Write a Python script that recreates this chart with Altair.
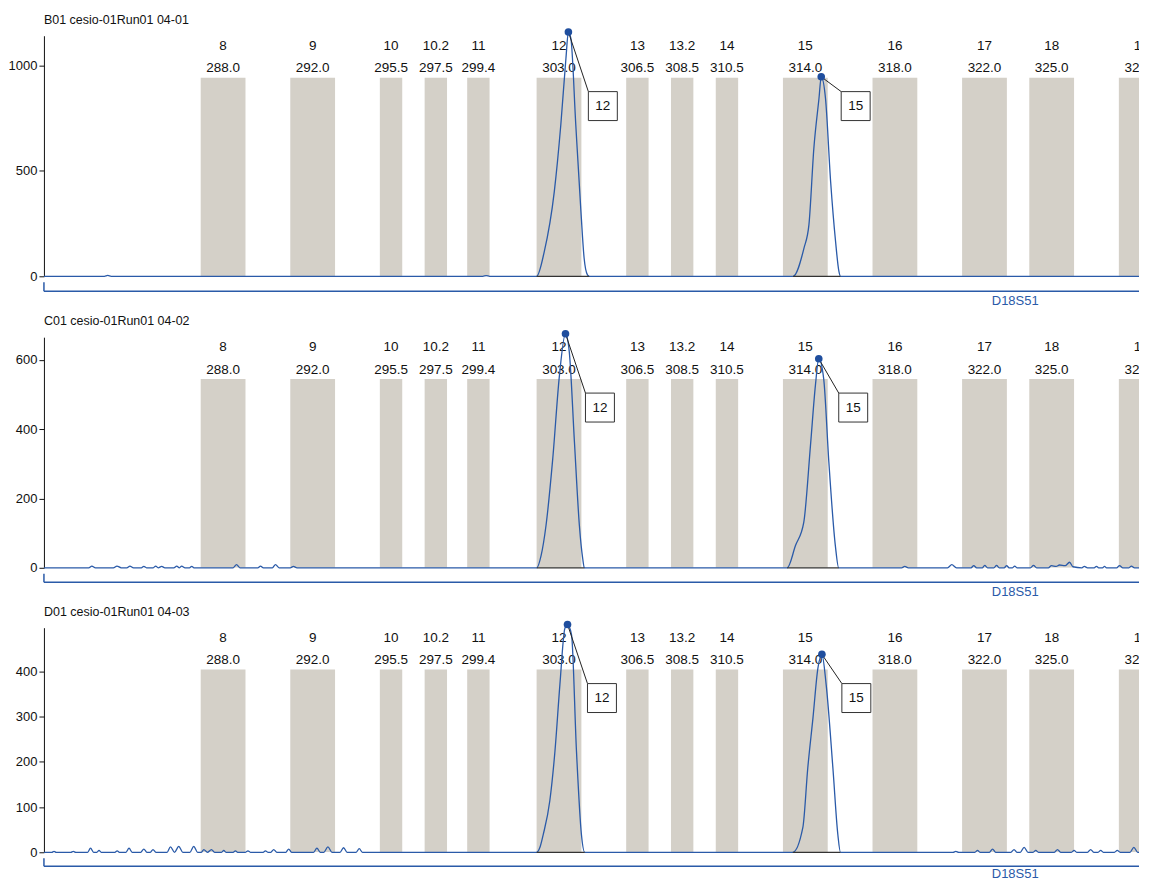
import altair as alt
import pandas as pd

FONT = "Liberation Sans"
BLUE = "#2a5aa8"
DOT_BLUE = "#1f4e9e"
BIN_GRAY = "#d4d0c8"

# ---------------- data ----------------
bin_alleles = ["8", "9", "10", "10.2", "11", "12", "13", "13.2", "14", "15", "16", "17", "18", "19"]
bin_sizes = [288.0, 292.0, 295.5, 297.5, 299.4, 303.0, 306.5, 308.5, 310.5, 314.0, 318.0, 322.0, 325.0, 329.0]
bin_half = [1.0, 1.0, 0.5, 0.5, 0.5, 1.0, 0.5, 0.5, 0.5, 1.0, 1.0, 1.0, 1.0, 1.0]

marker_name = "D18S51"
samples = ["B01 cesio-01Run01 04-01", "C01 cesio-01Run01 04-02", "D01 cesio-01Run01 04-03"]
y_max = [1142, 665, 497]
y_ticks = [[0, 500, 1000], [0, 100, 200, 300, 400, 500, 600], [0, 100, 200, 300, 400]]

peak_alleles = [["12", "15"], ["12", "15"], ["12", "15"]]
peak_bp = [[303.42, 314.71], [303.29, 314.60], [303.38, 314.74]]
peak_rfu = [[1160, 947], [675, 603], [504, 438]]
peak_start = [[302.0, 313.45], [302.01, 313.19], [302.0, 313.44]]
peak_end = [[304.35, 315.57], [304.13, 315.49], [304.15, 315.57]]

trace1_bp = [280.0, 282.7, 282.85, 283.0, 299.6, 299.75, 299.9,
             302.0, 302.34, 302.79, 303.08, 303.31, 303.42, 303.53, 303.75, 303.98, 304.12, 304.27, 304.35,
             313.45, 313.94, 314.16, 314.38, 314.61, 314.71, 314.90, 315.13, 315.35, 315.50, 315.57, 328.9]
trace1_rfu = [0, 0, 4, 0, 0, 3, 0,
              0, 116, 402, 718, 1035, 1160, 1130, 718, 307, 88, 7, 0,
              0, 134, 244, 607, 845, 947, 845, 449, 165, 23, 0, 0]

trace2_bp = [280.0, 282.0, 282.14, 282.3, 283.1, 283.26, 283.45, 283.7, 283.84, 284.0, 284.35, 284.46, 284.58,
             284.88, 284.99, 285.1, 285.26, 285.4, 285.8, 285.93, 286.05, 286.15, 286.3, 286.5, 286.6, 286.7,
             288.45, 288.6, 288.75, 289.55, 289.67, 289.8, 290.2, 290.34, 290.5, 291.0, 291.14, 291.3,
             302.01, 302.2, 302.42, 302.72, 303.02, 303.29, 303.46, 303.69, 303.91, 304.06, 304.13,
             313.19, 313.56, 313.93, 314.23, 314.45, 314.6, 314.82, 315.05, 315.34, 315.49,
             318.3, 318.44, 318.6, 320.35, 320.54, 320.75, 321.4, 321.52, 321.65, 321.9, 322.01, 322.14,
             322.42, 322.54, 322.66, 322.88, 322.99, 323.1, 323.25, 323.35, 323.45, 324.05, 324.19, 324.33,
             324.85, 324.99, 325.2, 325.35, 325.6, 325.8, 325.95, 326.35, 326.46, 326.6, 326.9, 327.0, 327.1,
             327.27, 327.36, 327.45, 327.9, 328.03, 328.18, 328.45, 328.56, 328.7, 328.9]
trace2_rfu = [0, 0, 5, 0, 0, 5, 0, 0, 5, 0, 0, 4, 0,
              0, 5, 0, 4, 0, 0, 5, 0, 5, 0, 0, 4, 0,
              0, 9, 0, 0, 5, 0, 0, 9, 0, 0, 4, 0,
              0, 35, 122, 314, 555, 675, 622, 362, 122, 26, 0,
              0, 64, 131, 353, 526, 603, 545, 305, 64, 0,
              0, 4, 0, 0, 9, 0, 0, 6, 0, 0, 7, 0,
              0, 7, 0, 0, 6, 0, 0, 5, 0, 0, 7, 0,
              0, 6, 4, 8, 6, 16, 3, 0, 4, 0, 0, 4, 0,
              0, 4, 0, 0, 6, 0, 0, 5, 0, 0]

trace3_bp = [280.0, 280.35, 280.45, 280.55, 281.2, 281.31, 281.42, 281.95, 282.08, 282.22, 282.36, 282.46, 282.56,
             283.17, 283.27, 283.37, 283.66, 283.8, 283.94, 284.32, 284.46, 284.6, 284.75, 284.87, 285.0,
             285.5, 285.65, 285.83, 286.02, 286.2, 286.52, 286.69, 286.86, 287.03, 287.14, 287.3, 287.48, 287.62,
             287.93, 288.03, 288.13, 288.45, 288.55, 288.65, 289.0, 289.11, 289.22, 289.79, 289.89, 290.0,
             290.13, 290.26, 290.4, 290.8, 290.93, 291.06, 292.04, 292.19, 292.34, 292.5, 292.68, 292.86,
             293.22, 293.38, 293.54, 293.94, 294.08, 294.22,
             302.0, 302.15, 302.3, 302.59, 302.82, 303.04, 303.26, 303.38, 303.56, 303.78, 304.0, 304.15,
             313.44, 313.89, 314.11, 314.34, 314.56, 314.74, 314.93, 315.23, 315.45, 315.57,
             320.6, 320.72, 320.85, 321.57, 321.69, 321.8, 322.22, 322.36, 322.5, 323.18, 323.32, 323.45,
             323.6, 323.77, 323.94, 324.17, 324.29, 324.41, 325.12, 325.26, 325.4, 325.88, 326.0, 326.12,
             326.6, 326.74, 326.88, 327.07, 327.19, 327.31, 327.8, 327.93, 328.06, 328.5, 328.67, 328.84, 328.9]
trace3_rfu = [0, 0, 2, 0, 0, 2, 0, 0, 9, 0, 0, 4, 0,
              0, 3, 0, 0, 9, 0, 0, 7, 0, 0, 6, 0,
              0, 12, 0, 13, 0, 0, 13, 0, 0, 6, 0, 6, 0,
              0, 4, 0, 0, 3, 0, 0, 3, 0, 0, 3, 0,
              0, 6, 0, 0, 7, 0, 0, 9, 0, 0, 12, 0,
              0, 10, 0, 0, 8, 0,
              0, 11, 40, 114, 224, 371, 495, 504, 481, 224, 40, 0,
              0, 55, 187, 297, 407, 438, 371, 187, 40, 0,
              0, 2, 0, 0, 4, 0, 0, 7, 0, 0, 6, 0,
              0, 11, 0, 0, 4, 0, 0, 6, 0, 0, 4, 0,
              0, 6, 0, 0, 4, 0, 0, 4, 0, 0, 11, 0, 0]

traces_bp = [trace1_bp, trace2_bp, trace3_bp]
traces_rfu = [trace1_rfu, trace2_rfu, trace3_rfu]

# ---------------- layout constants (pixels) ----------------
X_DOMAIN = [280.0, 328.9]
W = 1097
HEIGHTS = [241, 231, 225]
BRACKET_Y = [15, 14.5, 14]
MARKER_Y = [25, 24, 22]
MARKER_X = 973
BIN_TOP = 42
NAME_Y = 10
SIZE_Y = 32.5
BOX_TOP = 56
BOX_H = 29
BOX_DX = 20
BOX_W = 29

bins_df = pd.DataFrame({
    "allele": bin_alleles,
    "size": bin_sizes,
    "lo": [s - h for s, h in zip(bin_sizes, bin_half)],
    "hi": [s + h for s, h in zip(bin_sizes, bin_half)],
})

xscale = alt.Scale(domain=X_DOMAIN, nice=False, zero=False)


def panel(i):
    H = HEIGHTS[i]
    yscale = alt.Scale(domain=[0, y_max[i]], nice=False, zero=True)
    trace_df = pd.DataFrame({"bp": traces_bp[i], "rfu": traces_rfu[i]})
    peaks_df = pd.DataFrame({
        "allele": peak_alleles[i], "bp": peak_bp[i], "rfu": peak_rfu[i],
        "start": peak_start[i], "end": peak_end[i],
    })

    bins = alt.Chart(bins_df).mark_rect(color=BIN_GRAY, clip=True).encode(
        x=alt.X("lo:Q", scale=xscale, axis=None), x2="hi:Q",
        y=alt.value(BIN_TOP), y2=alt.value(H),
    )
    names = alt.Chart(bins_df).mark_text(
        clip=True, font=FONT, fontSize=13.5, color="#111", baseline="middle"
    ).encode(x=alt.X("size:Q", scale=xscale, axis=None), y=alt.value(NAME_Y), text="allele:N")
    sizes = alt.Chart(bins_df).mark_text(
        clip=True, font=FONT, fontSize=13.5, color="#111", baseline="middle"
    ).encode(x=alt.X("size:Q", scale=xscale, axis=None), y=alt.value(SIZE_Y),
             text=alt.Text("size:Q", format=".1f"))

    line = alt.Chart(trace_df).mark_line(
        color=BLUE, strokeWidth=1.3, interpolate="monotone"
    ).encode(
        x=alt.X("bp:Q", scale=xscale, axis=None),
        y=alt.Y("rfu:Q", scale=yscale, title=None,
                axis=alt.Axis(values=y_ticks[i], format="d", grid=False, tickSize=5, tickColor="#111",
                              domainColor="#111", labelColor="#111", labelFont=FONT,
                              labelFontSize=13, labelPadding=2, domainWidth=1, tickWidth=1)),
    )
    base_seg = alt.Chart(peaks_df).mark_rule(color="#333", strokeWidth=1.2).encode(
        x=alt.X("start:Q", scale=xscale, axis=None), x2="end:Q", y=alt.value(H)
    )
    leader = alt.Chart(peaks_df).mark_rule(color="#222", strokeWidth=1, x2Offset=BOX_DX).encode(
        x=alt.X("bp:Q", scale=xscale, axis=None), x2="bp:Q",
        y=alt.Y("rfu:Q", scale=yscale), y2=alt.value(BOX_TOP),
    )
    dots = alt.Chart(peaks_df).mark_circle(color=DOT_BLUE, size=58, opacity=1).encode(
        x=alt.X("bp:Q", scale=xscale, axis=None), y=alt.Y("rfu:Q", scale=yscale)
    )
    boxes = alt.Chart(peaks_df).mark_rect(
        fill="white", stroke="#333", strokeWidth=1, xOffset=BOX_DX, x2Offset=BOX_DX + BOX_W
    ).encode(
        x=alt.X("bp:Q", scale=xscale, axis=None), x2="bp:Q",
        y=alt.value(BOX_TOP), y2=alt.value(BOX_TOP + BOX_H),
    )
    box_text = alt.Chart(peaks_df).mark_text(
        font=FONT, fontSize=13.5, color="#111", baseline="middle", dx=BOX_DX + BOX_W / 2
    ).encode(x=alt.X("bp:Q", scale=xscale, axis=None), y=alt.value(BOX_TOP + BOX_H / 2), text="allele:N")

    bracket_v = alt.Chart(peaks_df.head(1)).mark_rule(color=BLUE, strokeWidth=1.5).encode(
        x=alt.value(0), y=alt.value(H + 6), y2=alt.value(H + BRACKET_Y[i])
    )
    bracket_h = alt.Chart(peaks_df.head(1)).mark_rule(color=BLUE, strokeWidth=1.5).encode(
        x=alt.value(0), x2=alt.value(W), y=alt.value(H + BRACKET_Y[i])
    )
    marker = alt.Chart(peaks_df.head(1)).mark_text(
        font=FONT, fontSize=13, color=BLUE, baseline="middle"
    ).encode(x=alt.value(MARKER_X), y=alt.value(H + MARKER_Y[i]), text=alt.value(marker_name))

    return alt.layer(
        bins, names, sizes, line, base_seg, leader, dots, boxes, box_text,
        bracket_v, bracket_h, marker,
    ).properties(
        width=W, height=H,
        title=alt.Title(samples[i], anchor="start", frame="group", font=FONT, fontSize=12.5,
                        fontWeight="normal", color="#111", offset=2),
    )


chart = alt.vconcat(panel(0), panel(1), panel(2), spacing=7).properties(
    padding={"top": 4, "left": 0, "right": 0, "bottom": 0}
).configure_view(stroke=None)

chart.save("out.html", embed_options={"renderer": "svg", "actions": False})
